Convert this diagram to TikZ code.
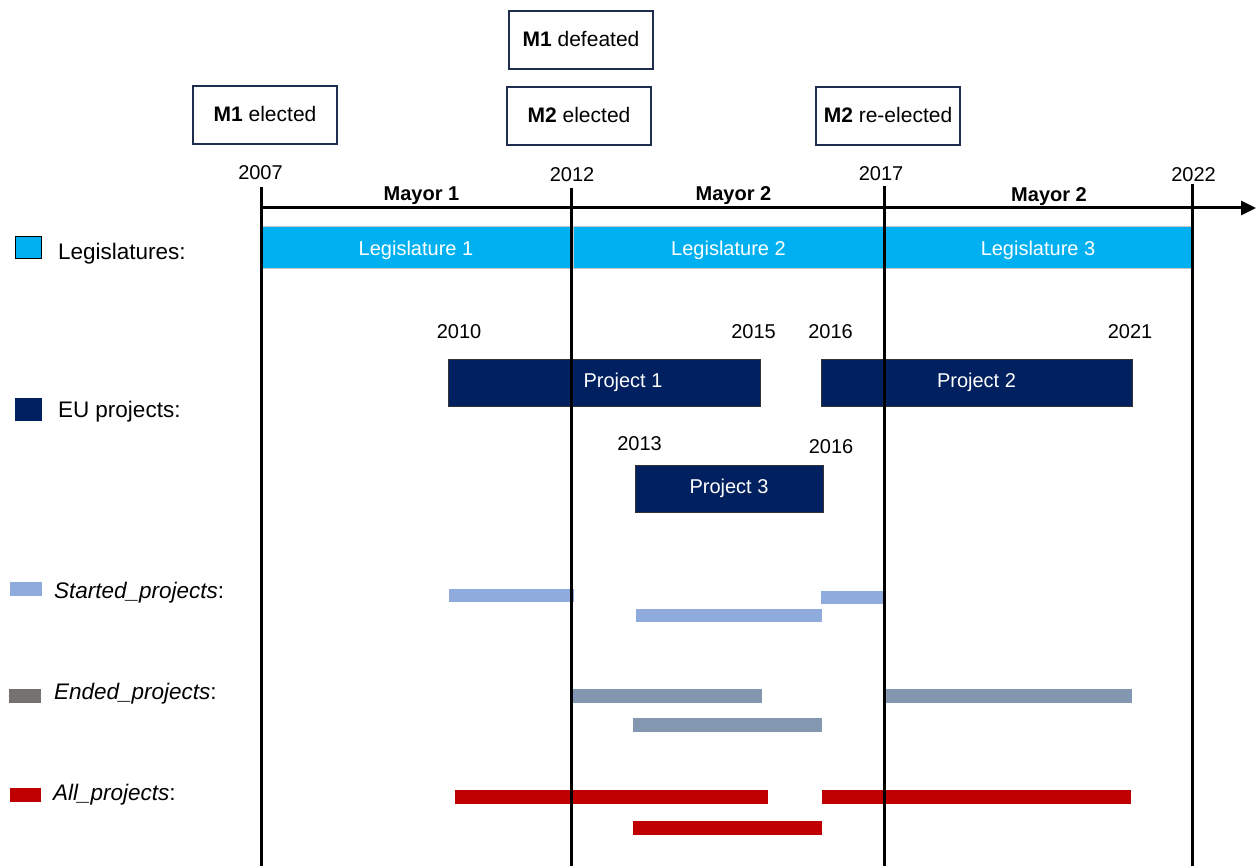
\documentclass[tikz,border=0pt]{standalone}
\usepackage{fontspec}
\setmainfont{Liberation Sans}
\usetikzlibrary{arrows.meta}
\definecolor{legc}{HTML}{00B0F0}
\definecolor{projc}{HTML}{002060}
\definecolor{startc}{HTML}{8FAADC}
\definecolor{endc}{HTML}{8497B0}
\definecolor{endleg}{HTML}{767171}
\definecolor{allc}{HTML}{C00000}
\definecolor{boxc}{HTML}{1F2D4E}
\begin{document}
\begin{tikzpicture}[x=1pt,y=-1pt,
  base/.style={font=\fontsize{20}{24}\selectfont, inner sep=0pt, outer sep=0pt},
  lbl/.style={base, anchor=base},
  mayor/.style={base, anchor=base, font=\fontsize{20}{24}\selectfont\bfseries},
  legtext/.style={base, anchor=base west, font=\fontsize{22.5}{27}\selectfont},
  mbox/.style={base, font=\fontsize{21}{25}\selectfont, draw=boxc, line width=2pt, minimum width=144pt, minimum height=58pt, anchor=north west, text depth=2pt},
  legbar/.style={base, fill=legc, draw=gray!45, line width=0.6pt, text=white, minimum height=42pt, anchor=north west, text height=18pt, text depth=0pt},
  projbar/.style={base, fill=projc, draw=black!80, line width=0.8pt, text=white, minimum height=47pt, anchor=north west},
  sbar/.style={base, fill=startc, minimum height=13pt, anchor=north west},
  ebar/.style={base, fill=endc, minimum height=14pt, anchor=north west},
  abar/.style={base, fill=allc, minimum height=14pt, anchor=north west},
  swatch/.style={base, anchor=north west},
  vline/.style={line width=3pt, black},
  axisline/.style={line width=3pt, black, -{Triangle[length=15pt,width=14pt]}}
]
\useasboundingbox (0,0) rectangle (1257,866);

% top event boxes
\node[mbox] (m1el) at (193,86) {\textbf{M1} elected};
\node[mbox] (m1def) at (509,11) {\textbf{M1} defeated};
\node[mbox] (m2el) at (507,87) {\textbf{M2} elected};
\node[mbox] (m2re) at (816,87) {\textbf{M2} re-elected};

% year labels on axis
\node[lbl] (y2007) at (260.5,180) {2007};
\node[lbl] (y2012) at (572,182) {2012};
\node[lbl] (y2017) at (881,181) {2017};
\node[lbl] (y2022) at (1193.5,182) {2022};

% mayor labels
\node[mayor] (may1) at (421.5,201) {Mayor 1};
\node[mayor] (may2) at (733.5,201) {Mayor 2};
\node[mayor] (may3) at (1049,202) {Mayor 2};

% legislature bars
\node[legbar, minimum width=310pt] (leg1) at (261,226) {Legislature 1};
\node[legbar, minimum width=311pt] (leg2) at (573,226) {Legislature 2};
\node[legbar, minimum width=308pt] (leg3) at (884,226) {Legislature 3};

% project bars
\node[projbar, minimum width=312pt] (p1) at (448,359) {\hspace*{38pt}Project 1};
\node[projbar, minimum width=311pt] (p2) at (821,359) {Project 2};
\node[projbar, minimum width=188pt] (p3) at (635,465) {Project 3};

% project year labels
\node[lbl] (p1s) at (459,338) {2010};
\node[lbl] (p1e) at (753.5,338) {2015};
\node[lbl] (p2s) at (830.5,338) {2016};
\node[lbl] (p2e) at (1130,338) {2021};
\node[lbl] (p3s) at (639.5,450) {2013};
\node[lbl] (p3e) at (831,453) {2016};

% started projects
\node[sbar, minimum width=125pt] (s1) at (449,589) {};
\node[sbar, minimum width=186pt] (s2) at (636,609) {};
\node[sbar, minimum width=63pt] (s3) at (821,591) {};

% ended projects
\node[ebar, minimum width=190pt] (e1) at (572,689) {};
\node[ebar, minimum width=189pt] (e2) at (633,718) {};
\node[ebar, minimum width=248pt] (e3) at (884,689) {};

% all projects
\node[abar, minimum width=313pt] (a1) at (455,790) {};
\node[abar, minimum width=189pt] (a2) at (633,821) {};
\node[abar, minimum width=309pt] (a3) at (822,790) {};

% legend
\node[swatch, fill=legc, draw=black, line width=0.8pt, minimum width=26pt, minimum height=22pt] (lg1) at (15,236) {};
\node[legtext] (lt1) at (58,260) {Legislatures:};
\node[swatch, fill=projc, minimum width=27pt, minimum height=23pt] (lg2) at (15,398) {};
\node[legtext] (lt2) at (58,417) {EU projects:};
\node[swatch, fill=startc, minimum width=32pt, minimum height=14pt] (lg3) at (10,582) {};
\node[legtext] (lt3) at (54,598) {\textit{Started\_projects}:};
\node[swatch, fill=endleg, minimum width=32pt, minimum height=14pt] (lg4) at (9,689) {};
\node[legtext] (lt4) at (54,699) {\textit{Ended\_projects}:};
\node[swatch, fill=allc, minimum width=31pt, minimum height=14pt] (lg5) at (10,788) {};
\node[legtext] (lt5) at (53,800) {\textit{All\_projects}:};

% vertical year lines
\coordinate (v1t) at (261,187); \coordinate (v1b) at (261,868);
\coordinate (v2t) at (571,188); \coordinate (v2b) at (571,868);
\coordinate (v3t) at (884,186); \coordinate (v3b) at (884,868);
\coordinate (v4t) at (1192,184); \coordinate (v4b) at (1192,868);
\draw[vline] (v1t) -- (v1b);
\draw[vline] (v2t) -- (v2b);
\draw[vline] (v3t) -- (v3b);
\draw[vline] (v4t) -- (v4b);

% time axis
\coordinate (axs) at (261,208);
\coordinate (axe) at (1256,208);
\draw[axisline] (axs) -- (axe);
\end{tikzpicture}
\end{document}
